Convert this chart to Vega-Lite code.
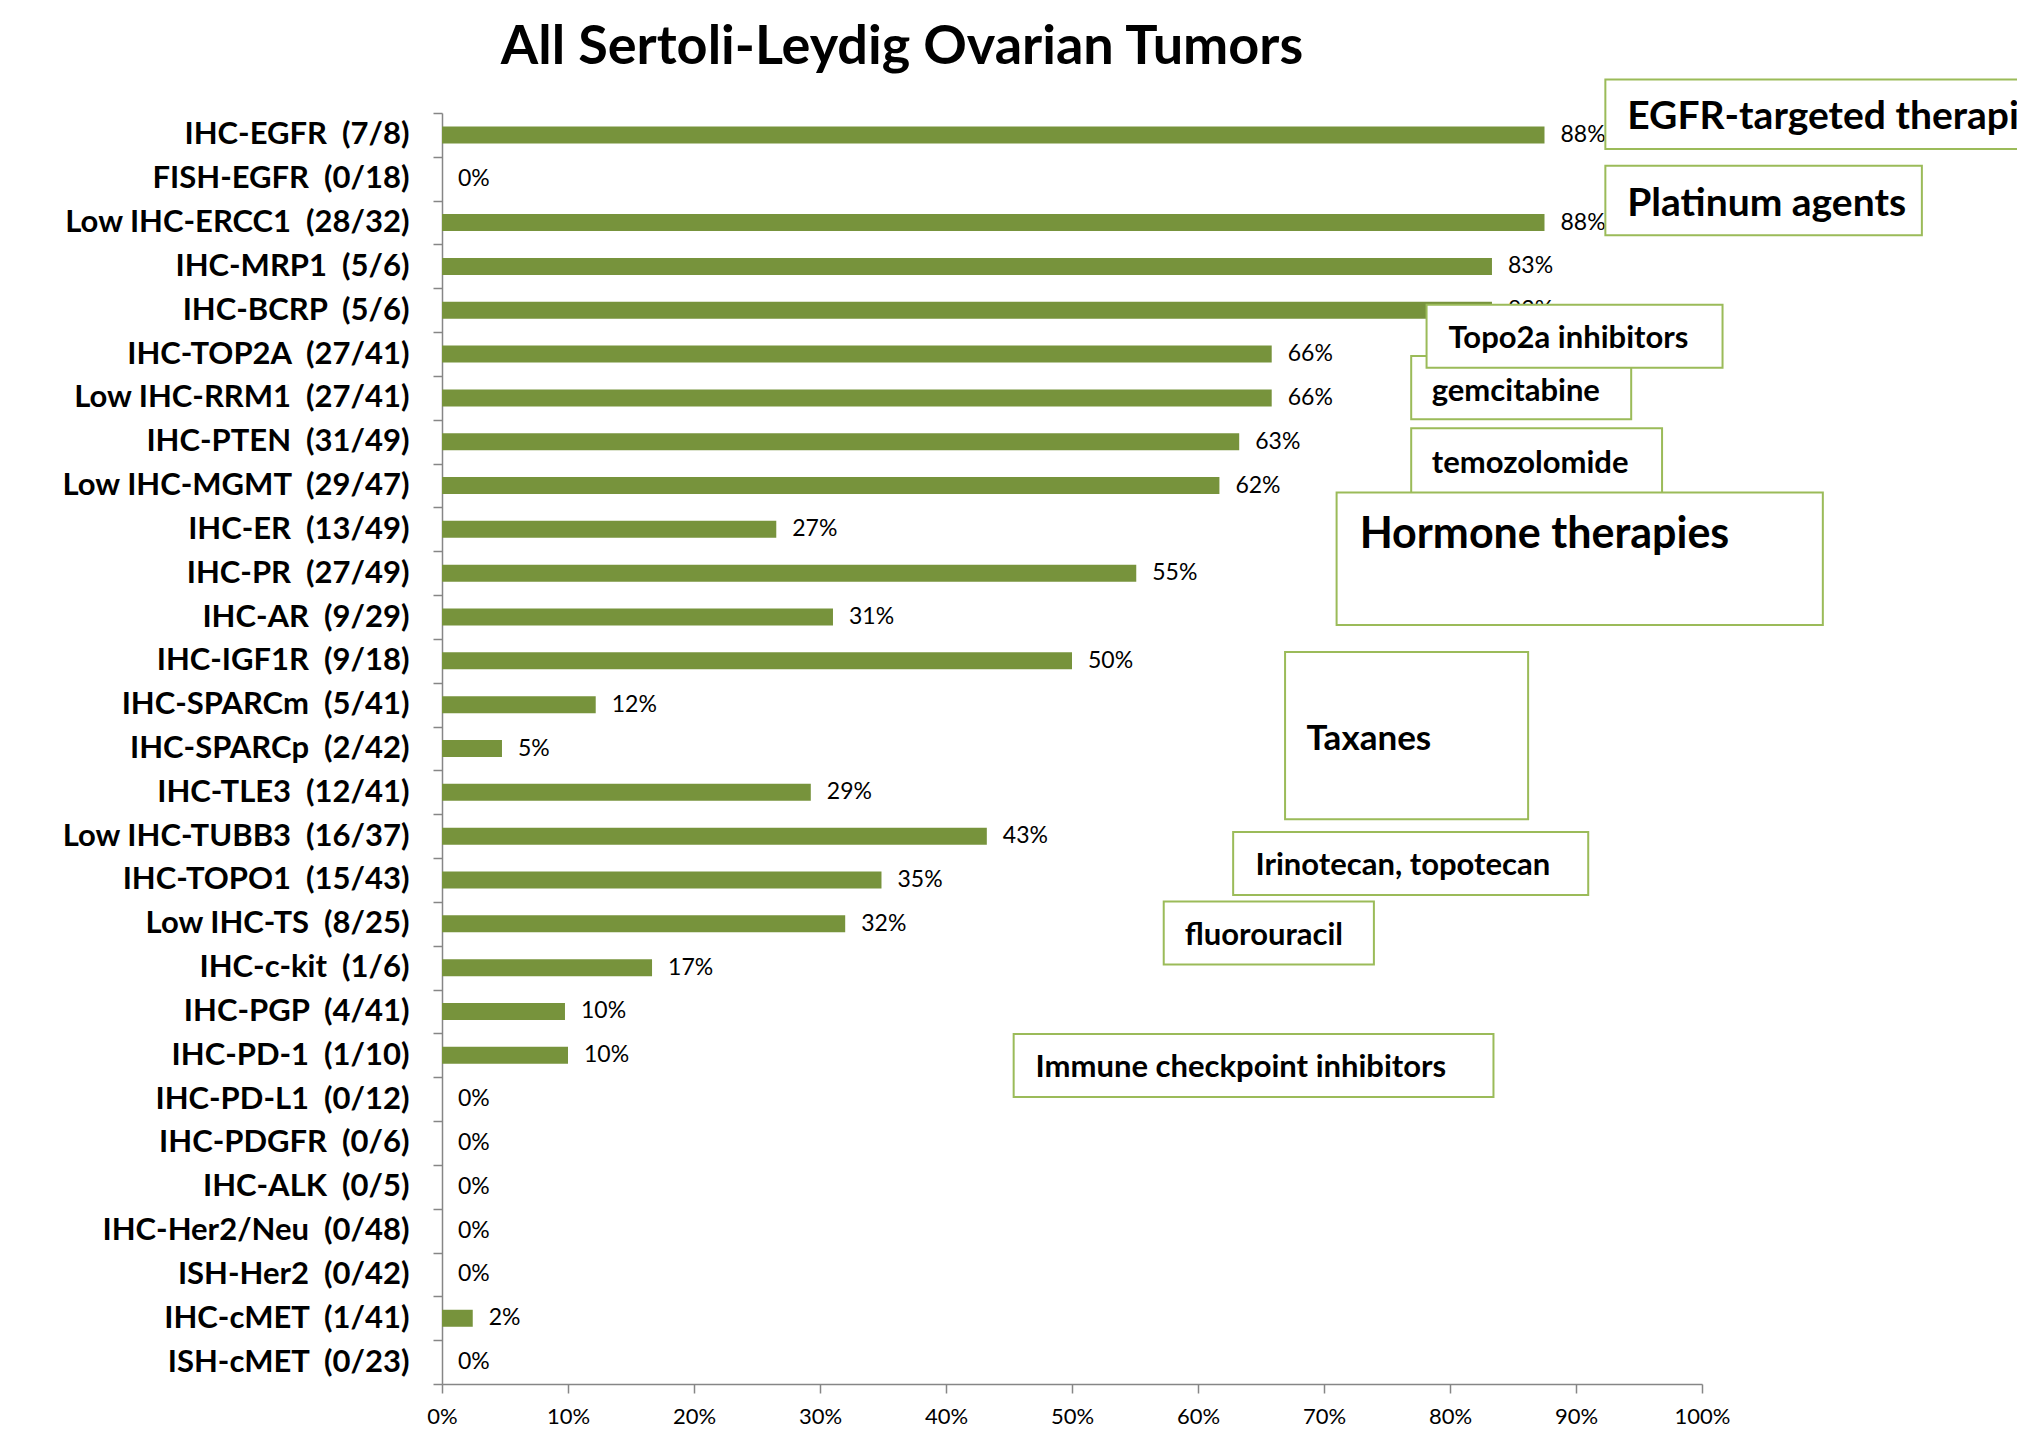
{
  "$schema": "https://vega.github.io/schema/vega-lite/v6.json",
  "width": 1260,
  "height": 1271,
  "autosize": {"type": "none"},
  "padding": {"left": 442, "top": 113, "right": 315, "bottom": 49},
  "background": "white",
  "config": {"view": {"stroke": null}, "font": "Lato"},
  "title": {
    "text": "All Sertoli-Leydig Ovarian Tumors",
    "font": "Lato", "fontSize": 54, "fontWeight": "bold", "color": "#000000",
    "anchor": "middle", "dx": -170, "offset": -39, "baseline": "alphabetic"
  },
  "datasets": {
    "markers": [
      {"marker": "IHC-EGFR\u00a0\u00a0(7/8)", "pct": 0.875},
      {"marker": "FISH-EGFR\u00a0\u00a0(0/18)", "pct": 0},
      {"marker": "Low IHC-ERCC1\u00a0\u00a0(28/32)", "pct": 0.875},
      {"marker": "IHC-MRP1\u00a0\u00a0(5/6)", "pct": 0.8333},
      {"marker": "IHC-BCRP\u00a0\u00a0(5/6)", "pct": 0.8333},
      {"marker": "IHC-TOP2A\u00a0\u00a0(27/41)", "pct": 0.6585},
      {"marker": "Low IHC-RRM1\u00a0\u00a0(27/41)", "pct": 0.6585},
      {"marker": "IHC-PTEN\u00a0\u00a0(31/49)", "pct": 0.6327},
      {"marker": "Low IHC-MGMT\u00a0\u00a0(29/47)", "pct": 0.617},
      {"marker": "IHC-ER\u00a0\u00a0(13/49)", "pct": 0.2653},
      {"marker": "IHC-PR\u00a0\u00a0(27/49)", "pct": 0.551},
      {"marker": "IHC-AR\u00a0\u00a0(9/29)", "pct": 0.3103},
      {"marker": "IHC-IGF1R\u00a0\u00a0(9/18)", "pct": 0.5},
      {"marker": "IHC-SPARCm\u00a0\u00a0(5/41)", "pct": 0.122},
      {"marker": "IHC-SPARCp\u00a0\u00a0(2/42)", "pct": 0.0476},
      {"marker": "IHC-TLE3\u00a0\u00a0(12/41)", "pct": 0.2927},
      {"marker": "Low IHC-TUBB3\u00a0\u00a0(16/37)", "pct": 0.4324},
      {"marker": "IHC-TOPO1\u00a0\u00a0(15/43)", "pct": 0.3488},
      {"marker": "Low IHC-TS\u00a0\u00a0(8/25)", "pct": 0.32},
      {"marker": "IHC-c-kit\u00a0\u00a0(1/6)", "pct": 0.1667},
      {"marker": "IHC-PGP\u00a0\u00a0(4/41)", "pct": 0.0976},
      {"marker": "IHC-PD-1\u00a0\u00a0(1/10)", "pct": 0.1},
      {"marker": "IHC-PD-L1\u00a0\u00a0(0/12)", "pct": 0},
      {"marker": "IHC-PDGFR\u00a0\u00a0(0/6)", "pct": 0},
      {"marker": "IHC-ALK\u00a0\u00a0(0/5)", "pct": 0},
      {"marker": "IHC-Her2/Neu\u00a0\u00a0(0/48)", "pct": 0},
      {"marker": "ISH-Her2\u00a0\u00a0(0/42)", "pct": 0},
      {"marker": "IHC-cMET\u00a0\u00a0(1/41)", "pct": 0.0244},
      {"marker": "ISH-cMET\u00a0\u00a0(0/23)", "pct": 0}
    ],
    "notes": [
      {"note": "EGFR-targeted therapies", "tier": "large", "x0": 0.9233, "x1": 1.32, "y0": -0.762, "y1": 0.821, "tx": 0.9407, "ty": 0.1},
      {"note": "Platinum agents", "tier": "large", "x0": 0.9233, "x1": 1.1745, "y0": 1.203, "y1": 2.789, "tx": 0.9407, "ty": 2.07},
      {"note": "gemcitabine", "tier": "small", "x0": 0.7692, "x1": 0.9438, "y0": 5.547, "y1": 6.986, "tx": 0.7855, "ty": 6.36},
      {"note": "Topo2a inhibitors", "tier": "small", "x0": 0.7814, "x1": 1.0163, "y0": 4.373, "y1": 5.811, "tx": 0.7988, "ty": 5.16},
      {"note": "temozolomide", "tier": "small", "x0": 0.7692, "x1": 0.9683, "y0": 7.191, "y1": 8.864, "tx": 0.7855, "ty": 8.0},
      {"note": "Hormone therapies", "tier": "big", "x0": 0.71, "x1": 1.0959, "y0": 8.658, "y1": 11.681, "tx": 0.7283, "ty": 9.62},
      {"note": "Taxanes", "tier": "medium", "x0": 0.6691, "x1": 0.862, "y0": 12.298, "y1": 16.112, "tx": 0.6861, "ty": 14.29},
      {"note": "Irinotecan, topotecan", "tier": "small", "x0": 0.6279, "x1": 0.9097, "y0": 16.407, "y1": 17.844, "tx": 0.6456, "ty": 17.19},
      {"note": "fluorouracil", "tier": "small", "x0": 0.5728, "x1": 0.7396, "y0": 17.992, "y1": 19.43, "tx": 0.5895, "ty": 18.77},
      {"note": "Immune checkpoint inhibitors", "tier": "small", "x0": 0.4537, "x1": 0.8345, "y0": 21.015, "y1": 22.453, "tx": 0.4711, "ty": 21.79}
    ]
  },
  "layer": [
    {
      "data": {"name": "markers"},
      "mark": {"type": "bar", "color": "#77933C", "size": 17},
      "encoding": {
        "y": {
          "field": "marker", "type": "nominal", "sort": null,
          "scale": {"paddingInner": 0, "paddingOuter": 0},
          "axis": {
            "title": null, "labelFont": "Lato", "labelFontSize": 31, "labelFontWeight": "bold",
            "labelColor": "#000000", "labelPadding": 24, "labelLimit": 600, "tickBand": "extent",
            "tickSize": 9, "tickColor": "#868686", "tickWidth": 1.5,
            "domainColor": "#868686", "domainWidth": 1.5, "grid": false, "labelBaseline": "middle"
          }
        },
        "x": {
          "field": "pct", "type": "quantitative", "scale": {"domain": [0, 1]},
          "axis": {
            "title": null, "values": [0, 0.1, 0.2, 0.3, 0.4, 0.5, 0.6, 0.7, 0.8, 0.9, 1],
            "format": ".0%", "labelFont": "Lato", "labelFontSize": 22, "labelColor": "#000000",
            "tickSize": 9, "tickColor": "#868686", "tickWidth": 1.5,
            "domainColor": "#868686", "domainWidth": 1.5, "labelPadding": 13,
            "grid": false, "labelFlush": false, "labelOverlap": false
          }
        }
      }
    },
    {
      "data": {"name": "markers"},
      "mark": {"type": "text", "align": "left", "baseline": "middle", "dx": 16, "fontSize": 23, "font": "Lato", "color": "#000000"},
      "encoding": {
        "y": {"field": "marker", "type": "nominal", "sort": null, "axis": null},
        "x": {"field": "pct", "type": "quantitative", "scale": {"domain": [0, 1]}},
        "text": {"field": "pct", "type": "quantitative", "format": ".0%"}
      }
    },
    {
      "data": {"name": "notes"},
      "mark": {"type": "rect", "fill": "white", "stroke": "#9BBB59", "strokeWidth": 2},
      "encoding": {
        "x": {"field": "x0", "type": "quantitative", "scale": {"domain": [0, 1]}},
        "x2": {"field": "x1"},
        "y": {"field": "y0", "type": "quantitative", "scale": {"domain": [0, 29], "reverse": true, "nice": false, "zero": false}, "axis": null},
        "y2": {"field": "y1"}
      }
    },
    {
      "data": {"name": "notes"},
      "mark": {"type": "text", "align": "left", "baseline": "middle", "font": "Lato", "fontWeight": "bold", "color": "#000000"},
      "encoding": {
        "x": {"field": "tx", "type": "quantitative", "scale": {"domain": [0, 1]}},
        "y": {"field": "ty", "type": "quantitative", "scale": {"domain": [0, 29], "reverse": true, "nice": false, "zero": false}, "axis": null},
        "text": {"field": "note", "type": "nominal"},
        "size": {"field": "tier", "type": "nominal", "scale": {"domain": ["big", "large", "medium", "small"], "range": [43, 31, 33, 27]}, "legend": null}
      }
    }
  ],
  "resolve": {"scale": {"y": "independent"}, "axis": {"y": "independent"}}
}
